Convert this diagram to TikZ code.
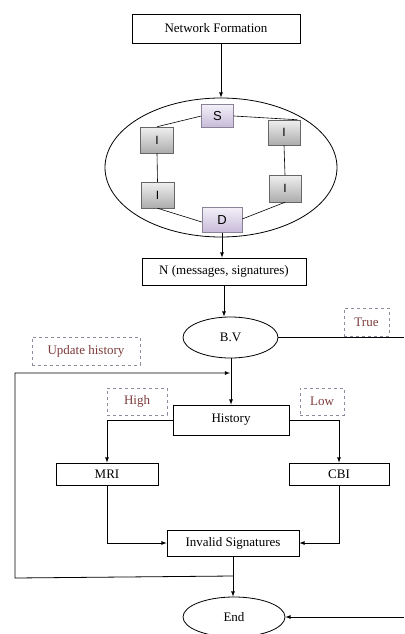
\documentclass[tikz,border=0pt]{standalone}
\usepackage{fontspec}
\setmainfont{Liberation Serif}
\setsansfont{Liberation Sans}
\usetikzlibrary{shapes.geometric}
\definecolor{notered}{HTML}{7D3B3B}
\definecolor{dashgray}{HTML}{8C8C9C}
\definecolor{lavtop}{HTML}{F3F0F8}
\definecolor{lavbot}{HTML}{C6BAD9}
\begin{document}
\begin{tikzpicture}[x=1pt,y=-1pt,line width=0.8pt,font=\fontsize{13}{15}\selectfont,procbox/.style={draw=black,fill=white,inner sep=0pt},termin/.style={shape=ellipse,draw=black,fill=white,inner sep=0pt},peer/.style={draw=gray!80!black,line width=0.5pt,top color=gray!12,bottom color=gray!65,inner sep=0pt,font=\sffamily\fontsize{12}{14}\selectfont,minimum width=33pt,minimum height=26pt},endpt/.style={draw=lavbot!70!black,line width=0.5pt,top color=lavtop,bottom color=lavbot,inner sep=0pt,font=\sffamily\fontsize{13}{15}\selectfont},note/.style={draw=dashgray,dashed,line width=0.8pt,text=notered,inner sep=0pt},flow/.style={-latex},link/.style={line width=0.6pt}]
\useasboundingbox (0,0) rectangle (404,634);
\node[procbox,minimum width=168pt,minimum height=29pt] (nf) at (216,28.5) {Network Formation};
\node[termin,minimum width=232pt,minimum height=139pt] (net) at (221,167.5) {};
\node[endpt,minimum width=32pt,minimum height=23pt] (s) at (217.5,116) {S};
\node[endpt,minimum width=40pt,minimum height=25pt] (d) at (222,220) {D};
\node[peer] (i1) at (157,140) {I};
\node[peer] (i2) at (157.5,195) {I};
\node[peer,minimum width=32pt,minimum height=25pt] (i3) at (284,132.5) {I};
\node[peer,minimum width=32pt,minimum height=27pt] (i4) at (285,188.5) {I};
\node[procbox,minimum width=164pt,minimum height=27pt] (msg) at (224,271.5) {N (messages, signatures)};
\node[termin,minimum width=95pt,minimum height=41pt] (bv) at (230.5,337.5) {B.V};
\node[note,minimum width=45pt,minimum height=28pt] (tru) at (366.5,322) {True};
\node[note,minimum width=108pt,minimum height=28pt] (upd) at (86,351) {Update history};
\node[procbox,minimum width=116pt,minimum height=30pt] (hist) at (231,420) {History};
\node[note,minimum width=60pt,minimum height=27pt] (high) at (137,401.5) {High};
\node[note,minimum width=44pt,minimum height=27pt] (low) at (322,401.5) {Low};
\node[procbox,minimum width=102pt,minimum height=22pt] (mri) at (107,474) {MRI};
\node[procbox,minimum width=100pt,minimum height=22pt] (cbi) at (339,474) {CBI};
\node[procbox,minimum width=132pt,minimum height=26pt] (inv) at (233,543) {Invalid Signatures};
\node[termin,minimum width=102pt,minimum height=40pt] (end) at (234,617) {End};
\coordinate (trueout) at (404,337.5);
\coordinate (endin) at (404,617);
\coordinate (jn) at (233,576);
\coordinate (lpa) at (15,578);
\coordinate (lpb) at (15,373);
\coordinate (lpc) at (230,373);
\draw[flow] (nf.south -| net.north) -- (net.north);
\draw[link] (s.west) -- (i1.north);
\draw[link] (s.east) -- ([xshift=-3pt]i3.north east);
\draw[link] (i1.south) -- (i2.north);
\draw[link] (i3.south) -- (i4.north);
\draw[link] (i2.south) -- ([yshift=-2pt]d.west);
\draw[link] (i4.south) -- ([yshift=1pt]d.east);
\draw[flow] (d.south) -- (d.south |- msg.north);
\draw[flow] (msg.south) -- (msg.south |- bv.north);
\draw (bv.east) -- (trueout);
\draw[flow] (bv.south -| hist.north) -- (hist.north);
\draw[flow] (hist.west) -| (mri.north);
\draw[flow] (hist.east) -| (cbi.north);
\draw[flow] (mri.south) |- (inv.west);
\draw[flow] (cbi.south) |- (inv.east);
\draw[flow] (inv.south) -- (inv.south |- end.north);
\draw[flow] (jn) -- (lpa) -- (lpb) -- (lpc);
\draw[flow] (endin) -- (end.east);
\end{tikzpicture}
\end{document}
